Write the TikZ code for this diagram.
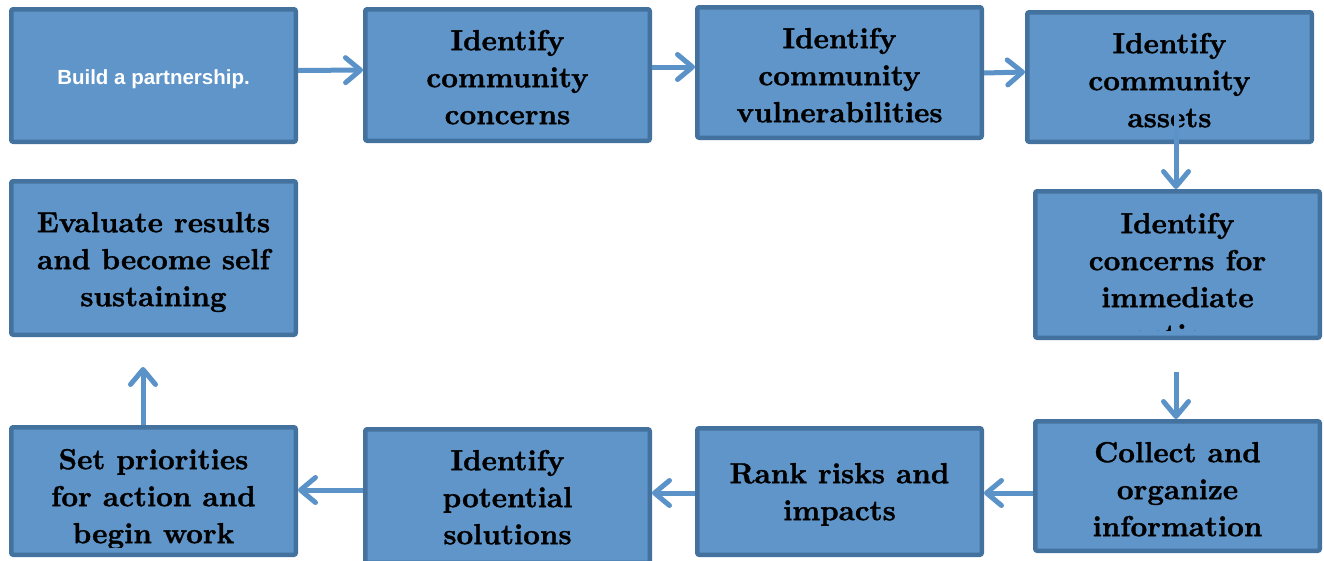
\documentclass[tikz,border=0pt]{standalone}
\usepackage{fontspec}
\newfontfamily\labelsans{Liberation Sans}
\newfontface\boxfont{lmroman10-bold}[Extension=.otf, FakeBold=1.2]
\usetikzlibrary{arrows.meta}
\definecolor{boxfill}{RGB}{95,149,201}
\definecolor{boxline}{RGB}{68,114,159}
\definecolor{arrowc}{RGB}{91,147,201}
\begin{document}
\begin{tikzpicture}[x=1pt,y=-1pt,
  box/.style={draw=boxline, fill=boxfill, line width=4.5pt, rounded corners=2pt, inner sep=0pt, minimum width=284.5pt},
  txt/.style={align=center, inner sep=0pt, anchor=north, text=black, font=\boxfont\fontsize{29}{37}\selectfont},
  arr/.style={draw=arrowc, line width=5pt, -{Straight Barb[length=15pt,width=25pt,round]}}]
\path[use as bounding box] (0,0) rectangle (1324,560);
\clip (0,0) rectangle (1324,560);
% boxes
\node[box, minimum height=132.5pt] (b1) at (153.5,75.5) {};
\node[box, minimum height=131.5pt] (b2) at (507.5,75) {};
\node[box, minimum height=130.5pt] (b3) at (839.5,72.5) {};
\node[box, minimum height=129.5pt] (b4) at (1169.5,77) {};
\node[box, minimum height=146.5pt] (b5) at (1177.5,264.5) {};
\node[box, minimum height=129.5pt] (b6) at (1177.5,486) {};
\node[box, minimum height=126.5pt] (b7) at (839.5,491.5) {};
\node[box, minimum height=133.5pt] (b8) at (507.5,496) {};
\node[box, minimum height=127.5pt] (b9) at (153.5,491) {};
\node[box, minimum height=153.5pt] (b10) at (153.5,258) {};
% texts
\node[inner sep=0pt, anchor=base, text=white, font=\labelsans\fontsize{20.5}{24}\selectfont\bfseries] (t1) at (153.5,84) {Build a partnership.};
\node[txt] (t2) at (507.5,28) {\rule{0pt}{22pt}Identify\\community\\concerns};
\node[txt] (t3) at (839.5,26) {\rule{0pt}{22pt}Identify\\community\\vulnerabilities};
\node[txt] (t4) at (1169.5,31) {\rule{0pt}{22pt}Identify\\community\\assets};
\begin{scope}
  \clip ([xshift=4pt,yshift=-4pt]b5.north west) rectangle ([xshift=-4pt,yshift=10pt]b5.south east);
  \node[txt] (t5) at (1177.5,211) {\rule{0pt}{22pt}Identify\\concerns for\\immediate\\action};
\end{scope}
\node[txt] (t6) at (1177.5,440) {\rule{0pt}{22pt}Collect and\\organize\\information};
\node[txt] (t7) at (839.5,461) {\rule{0pt}{22pt}Rank risks and\\impacts};
\node[txt] (t8) at (507.5,448) {\rule{0pt}{22pt}Identify\\potential\\solutions};
\begin{scope}
  \clip ([xshift=4pt,yshift=-4pt]b9.north west) rectangle ([xshift=-4pt,yshift=10pt]b9.south east);
  \node[txt] (t9) at (153.5,447) {\rule{0pt}{22pt}Set priorities\\for action and\\begin work};
\end{scope}
\node[txt] (t10) at (153.5,210) {\rule{0pt}{22pt}Evaluate results\\and become self\\sustaining};
% arrows
\draw[arr] ([yshift=5pt]b1.east) -- ([yshift=5pt]b2.west);
\draw[arr] ([yshift=8pt]b2.east) -- ([yshift=5.5pt]b3.west);
\draw[arr] ([yshift=-0.5pt]b3.east) -- ([yshift=5pt]b4.west);
\draw[arr] ([xshift=6.5pt,yshift=30pt]b4.south) -- ([xshift=-1.5pt]b5.north);
\draw[arr] ([xshift=-1.5pt,yshift=-32pt]b5.south) -- ([xshift=-1.5pt]b6.north);
\draw[arr] ([yshift=-7pt]b6.west) -- ([yshift=-1.5pt]b7.east);
\draw[arr] ([yshift=-1.5pt]b7.west) -- ([yshift=3pt]b8.east);
\draw[arr] ([yshift=6pt]b8.west) -- ([yshift=1pt]b9.east);
\draw[arr] ([xshift=-10.5pt]b9.north) -- ([xshift=-10.5pt,yshift=-30pt]b10.south);
\end{tikzpicture}
\end{document}
